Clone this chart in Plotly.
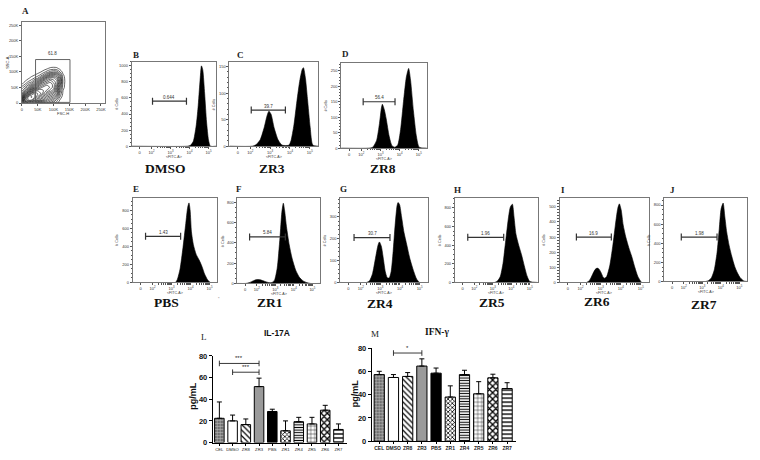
import math
import plotly.graph_objects as go

W, H = 760, 460
SERIF = "Liberation Serif"
SANS = "Liberation Sans"

# ---------------- DATA ----------------
# Panel A: contour density (FSC-H vs SSC-A)
a_x = [0, 10000, 20000, 30000, 40000, 50000, 60000, 70000, 80000, 90000, 100000, 110000, 120000, 130000, 140000]
a_y = [0, 10000, 20000, 30000, 40000, 50000, 60000, 70000, 80000, 90000, 100000, 110000, 120000]
a_z = [
    [3, 5, 6, 6, 5, 4, 3, 2.5, 2, 1.5, 1, 0.5, 0, 0, 0],
    [4, 7, 8, 8, 7, 6, 5, 4, 3, 2.5, 2, 1, 0.3, 0, 0],
    [3, 6, 8, 8.5, 8, 7, 6, 5, 4, 3.5, 3, 2, 0.8, 0, 0],
    [2, 4, 6, 7.5, 8, 7.5, 7, 6, 5, 4.5, 4, 3, 1.2, 0.2, 0],
    [1.5, 2.5, 4, 5.5, 6.5, 7, 7, 6.5, 6, 5.5, 5, 3.5, 1.5, 0.3, 0],
    [1, 1.5, 2.5, 3.5, 4.5, 5.5, 6, 6.5, 6.5, 6, 5.5, 4, 2, 0.5, 0],
    [0.3, 0.8, 1.5, 2, 3, 4, 5, 5.5, 6, 6, 5.5, 4.5, 2.5, 0.6, 0],
    [0, 0.3, 0.7, 1, 1.8, 2.5, 3.5, 4.5, 5, 5.5, 5, 4.5, 2.8, 0.7, 0],
    [0, 0, 0.2, 0.5, 0.8, 1.2, 2, 3, 4, 4.5, 4.5, 4, 2.5, 0.6, 0],
    [0, 0, 0, 0.1, 0.3, 0.5, 0.9, 1.5, 2.3, 3, 3.2, 3, 1.8, 0.4, 0],
    [0, 0, 0, 0, 0, 0.1, 0.3, 0.6, 1, 1.4, 1.6, 1.5, 0.8, 0.1, 0],
    [0, 0, 0, 0, 0, 0, 0, 0.1, 0.3, 0.5, 0.6, 0.5, 0.2, 0, 0],
    [0] * 15,
]
a_gate = [43000, 152000, 2000, 140000]
a_gate_pct = "61.8"
a_ticks = [0, 50000, 100000, 150000, 200000, 250000]
a_ticklabels = ["0", "50K", "100K", "150K", "200K", "250K"]

# Histograms (x in log10 FITC-A display units, y = # cells)
dmso_x = [0.95, 3.9, 4.05, 4.2, 4.35, 4.45, 4.55, 4.63, 4.7, 4.8, 4.9, 5.0, 5.1, 5.42]
dmso_y = [0, 0, 10, 60, 250, 480, 800, 1000, 950, 650, 300, 80, 0, 0]
zr3_x = [0.95, 2.1, 2.3, 2.5, 2.7, 2.85, 2.94, 3.05, 3.2, 3.4, 3.6, 3.95, 4.05, 4.2, 4.35, 4.5, 4.62, 4.68, 4.78, 4.88, 5.02, 5.15, 5.42]
zr3_y = [0, 0, 3, 12, 35, 58, 66, 60, 35, 12, 2, 2, 10, 40, 85, 125, 145, 148, 128, 90, 35, 2, 0]
zr8_x = [0.95, 2.4, 2.6, 2.8, 2.95, 3.05, 3.1, 3.2, 3.3, 3.45, 3.6, 3.75, 3.9, 4.05, 4.2, 4.35, 4.47, 4.57, 4.72, 4.87, 5.02, 5.42]
zr8_y = [0, 0, 3, 25, 80, 130, 142, 125, 95, 40, 8, 3, 10, 60, 150, 230, 258, 220, 120, 40, 3, 0]
pbs_x = [0.95, 3.2, 3.3, 3.45, 3.6, 3.75, 3.85, 3.92, 3.98, 4.05, 4.15, 4.3, 4.45, 4.6, 4.75, 4.9, 5.05, 5.42]
pbs_y = [0, 0, 30, 150, 380, 650, 830, 880, 800, 560, 420, 310, 250, 180, 90, 30, 0, 0]
zr1_x = [0.95, 1.4, 1.6, 1.8, 2.0, 2.2, 2.4, 2.6, 2.8, 2.95, 3.1, 3.25, 3.35, 3.43, 3.5, 3.6, 3.75, 3.9, 4.1, 4.3, 4.5, 4.7, 4.9, 5.42]
zr1_y = [0, 0, 8, 25, 38, 35, 22, 10, 8, 30, 150, 450, 700, 790, 720, 560, 380, 250, 130, 60, 25, 8, 0, 0]
zr4_x = [0.95, 2.3, 2.45, 2.6, 2.75, 2.88, 2.95, 3.05, 3.15, 3.25, 3.35, 3.45, 3.55, 3.65, 3.75, 3.85, 3.9, 3.98, 4.08, 4.2, 4.35, 4.5, 4.7, 4.85, 5.0, 5.42]
zr4_y = [0, 0, 8, 40, 110, 170, 185, 165, 110, 50, 22, 20, 50, 140, 260, 350, 365, 355, 300, 230, 170, 110, 50, 15, 0, 0]
zr5_x = [0.95, 3.1, 3.25, 3.4, 3.55, 3.7, 3.85, 3.95, 4.06, 4.15, 4.25, 4.4, 4.55, 4.7, 4.85, 5.0, 5.42]
zr5_y = [0, 0, 15, 60, 200, 450, 700, 810, 840, 700, 520, 400, 300, 180, 70, 10, 0]
zr6_x = [0.95, 2.3, 2.45, 2.6, 2.72, 2.82, 2.92, 3.02, 3.12, 3.2, 3.3, 3.45, 3.6, 3.75, 3.85, 3.93, 4.02, 4.12, 4.25, 4.4, 4.55, 4.7, 4.85, 5.05, 5.42]
zr6_y = [0, 0, 15, 55, 85, 95, 88, 65, 35, 28, 40, 110, 240, 400, 490, 520, 480, 380, 300, 230, 170, 100, 40, 0, 0]
zr7_x = [0.95, 3.2, 3.35, 3.5, 3.65, 3.8, 3.92, 4.02, 4.13, 4.22, 4.32, 4.45, 4.6, 4.75, 4.9, 5.05, 5.25, 5.42]
zr7_y = [0, 0, 10, 40, 120, 300, 550, 760, 820, 680, 520, 380, 260, 160, 90, 40, 5, 0]

hist_letters = ["B", "C", "D", "E", "F", "G", "H", "I", "J"]
hist_names = ["DMSO", "ZR3", "ZR8", "PBS", "ZR1", "ZR4", "ZR5", "ZR6", "ZR7"]
hist_x = [dmso_x, zr3_x, zr8_x, pbs_x, zr1_x, zr4_x, zr5_x, zr6_x, zr7_x]
hist_y = [dmso_y, zr3_y, zr8_y, pbs_y, zr1_y, zr4_y, zr5_y, zr6_y, zr7_y]
hist_ymax = [1050, 159, 276, 933, 840, 385, 905, 558, 872]
hist_dtick = [200, 50, 50, 200, 200, 100, 200, 100, 200]
hist_gate_lo = [2.05, 2.05, 2.1, 1.63, 1.61, 1.66, 1.65, 1.79, 1.87]
hist_gate_hi = [3.84, 3.77, 3.76, 3.48, 3.54, 3.49, 3.59, 3.53, 3.8]
hist_gate_y = [560, 68, 150, 510, 458, 205, 484, 300, 465]
hist_gate_pct = ["0.644", "39.7", "56.4", "1.43", "5.84", "30.7", "1.96", "16.9", "1.98"]
fitc_tickvals = [1.37, 2, 3, 4, 5]
fitc_ticktext = ["0", "10<sup>2</sup>", "10<sup>3</sup>", "10<sup>4</sup>", "10<sup>5</sup>"]

# Bar charts
groups = ["CEL", "DMSO", "ZR8", "ZR3", "PBS", "ZR1", "ZR4", "ZR5", "ZR6", "ZR7"]
il17a_mean = [22.4, 20.0, 16.6, 51.7, 28.7, 10.9, 19.3, 17.2, 29.9, 12.1]
il17a_top = [37.5, 25.4, 21.8, 59.5, 30.8, 20.0, 23.3, 23.3, 34.4, 17.2]
ifng_mean = [57.3, 54.8, 55.7, 64.6, 58.5, 38.0, 57.3, 40.8, 54.5, 45.3]
ifng_top = [60.1, 57.3, 59.0, 70.8, 62.9, 47.6, 61.0, 51.2, 57.6, 50.3]
il17a_sig = [("CEL", "ZR3", 73.1, "***"), ("DMSO", "ZR3", 65.0, "***")]
ifng_sig = [("DMSO", "ZR3", 75.8, "*")]

# ---------------- FIGURE ----------------
def fx(p):
    return p / W


def fy(p):
    return 1 - p / H


fig = go.Figure()
layout = {}
ann = []
shapes = []


def note(x, y, text, size, family=SANS, color="#333", angle=0, ref=None, yshift=0):
    d = dict(text=text, showarrow=False, xanchor="center", yanchor="middle",
             font=dict(size=size, family=family, color=color), textangle=angle, yshift=yshift)
    if ref is None:
        d.update(x=fx(x), y=fy(y), xref="paper", yref="paper")
    else:
        d.update(x=x, y=y, xref=ref[0], yref=ref[1])
    ann.append(d)


small = dict(size=4, family=SANS, color="#333")
box_line = dict(showline=True, mirror=True, linecolor="#777", linewidth=0.8,
                showgrid=False, zeroline=False, ticks="outside", ticklen=2,
                tickwidth=0.5, tickcolor="#555", fixedrange=True)

# ----- Panel A -----
fig.add_trace(go.Contour(
    x=a_x, y=a_y, z=a_z, xaxis="x", yaxis="y", showscale=False,
    contours=dict(coloring="lines", start=0.3, end=8.5, size=0.45),
    colorscale=[[0, "black"], [1, "black"]], line=dict(width=0.6),
    hoverinfo="skip"))
layout["xaxis"] = dict(domain=[fx(21), fx(104)], range=[0, 262000], anchor="y",
                       tickvals=a_ticks, ticktext=a_ticklabels, tickfont=small, **box_line)
layout["yaxis"] = dict(domain=[fy(101), fy(18)], range=[0, 262000], anchor="x",
                       tickvals=a_ticks, ticktext=a_ticklabels, tickfont=small, **box_line)
shapes.append(dict(type="rect", xref="x", yref="y", x0=a_gate[0], x1=a_gate[1],
                   y0=a_gate[2], y1=a_gate[3], line=dict(color="#555", width=0.9)))
note((a_gate[0] + a_gate[1]) / 2, a_gate[3] + 20000, a_gate_pct, 4.5, ref=("x", "y"))
note(25, 7, "<b>A</b>", 9, SERIF, "#222")
note(62, 112, "FSC-H", 4)
note(7, 59, "SSC-A", 4, angle=-90)

# ----- Histograms -----
hist_boxes = [(131, 216, 59, 145), (229, 318, 59, 145), (341, 427, 60, 147),
              (132, 217, 198, 284), (237, 320, 198, 285), (340, 428, 198, 284),
              (455, 538, 198, 284), (560, 650, 198, 284), (665, 748, 198, 283)]
letter_pos = [(135, 52), (240, 52), (345, 51), (135, 189), (239, 189), (343, 189),
              (458, 190), (563, 190), (673, 190)]
name_pos = [(165, 168), (272, 168), (383, 168), (166, 304), (270, 304), (380, 305),
            (492, 304), (598, 303), (705, 306)]

minor_x = [n + math.log10(k) for n in (2, 3, 4) for k in range(2, 10)]

for i in range(9):
    ax = i + 2
    xn, yn = "x%d" % ax, "y%d" % ax
    l, r, t, b = hist_boxes[i]
    fig.add_trace(go.Scatter(
        x=hist_x[i], y=hist_y[i], xaxis=xn, yaxis=yn, mode="lines",
        line=dict(color="black", width=0.6, shape="spline", smoothing=0.6),
        fill="tozeroy", fillcolor="black", hoverinfo="skip", showlegend=False))
    fig.add_trace(go.Scatter(
        x=[hist_gate_lo[i], hist_gate_hi[i]], y=[hist_gate_y[i]] * 2, xaxis=xn, yaxis=yn,
        mode="lines+markers", line=dict(color="#333", width=1.2),
        marker=dict(symbol="line-ns", size=5, line=dict(color="#333", width=1.2)),
        hoverinfo="skip", showlegend=False))
    note((hist_gate_lo[i] + hist_gate_hi[i]) / 2, hist_gate_y[i], hist_gate_pct[i], 4.5,
         ref=(xn, yn), yshift=4)
    layout["xaxis%d" % ax] = dict(domain=[fx(l), fx(r)], range=[0.95, 5.42], anchor=yn,
                                  tickvals=fitc_tickvals, ticktext=fitc_ticktext, tickfont=small,
                                  minor=dict(tickvals=minor_x, ticks="outside", ticklen=1.2,
                                             tickwidth=0.4, tickcolor="#555"),
                                  **box_line)
    layout["yaxis%d" % ax] = dict(domain=[fy(b), fy(t)], range=[0, hist_ymax[i]], anchor=xn,
                                  dtick=hist_dtick[i], tickfont=small,
                                  minor=dict(ticks="outside", ticklen=1.2, tickwidth=0.4,
                                             tickcolor="#555", nticks=5),
                                  **box_line)
    note((l + r) / 2, b + 11, "&lt;FITC-A&gt;", 3.6)
    note(l - 15, (t + b) / 2, "# Cells", 3.8, angle=-90)
    lx, ly = letter_pos[i]
    note(lx, ly, "<b>%s</b>" % hist_letters[i], 9, SERIF, "#222")
    nx, ny = name_pos[i]
    note(nx, ny, "<b>%s</b>" % hist_names[i], 13.5, SERIF, "#111")

note(219, 300, "*", 4, color="#777")

# ----- Bar charts -----
bar_color = ["#6e6e6e", "white", "white", "#9a9a9a", "black", "white", "white", "white", "white", "white"]
pat_shape = ["+", "", "\\", "", "", "x", "-", "+", "x", "-"]
pat_size = [3, 8, 4, 8, 8, 3, 2.6, 4, 4.5, 4]
pat_solid = [0.35, 0.2, 0.3, 0.2, 0.2, 0.45, 0.4, 0.2, 0.5, 0.35]
pat_fg = ["#b8b8b8", "black", "black", "black", "black", "black", "black", "black", "black", "black"]


def bar_panel(ax, means, tops, sigs, xdom, ydom, xr, tfont):
    xn, yn = "x%d" % ax, "y%d" % ax
    for j, g in enumerate(groups):
        pat = dict(shape=pat_shape[j], size=pat_size[j], solidity=pat_solid[j],
                   fgcolor=pat_fg[j], bgcolor=bar_color[j], fillmode="replace")
        fig.add_trace(go.Bar(
            x=[g], y=[means[j]], xaxis=xn, yaxis=yn, width=0.72,
            marker=dict(color=bar_color[j], line=dict(color="black", width=1), pattern=pat),
            error_y=dict(type="data", symmetric=False, array=[tops[j] - means[j]],
                         arrayminus=[0], thickness=1, width=2.5, color="black"),
            hoverinfo="skip", showlegend=False))
    for g0, g1, yv, txt in sigs:
        fig.add_trace(go.Scatter(
            x=[g0, g1], y=[yv, yv], xaxis=xn, yaxis=yn, mode="lines+markers",
            line=dict(color="#222", width=0.9),
            marker=dict(symbol="line-ns", size=4, line=dict(color="#222", width=0.9)),
            hoverinfo="skip", showlegend=False))
        note((groups.index(g0) + groups.index(g1)) / 2, yv, txt, 6, color="#222",
             ref=(xn, yn), yshift=5)
    layout["xaxis%d" % ax] = dict(domain=[fx(xdom[0]), fx(xdom[1])], range=xr, anchor=yn,
                                  type="category", categoryorder="array", categoryarray=groups,
                                  showline=True, linecolor="black", linewidth=1,
                                  ticks="outside", ticklen=2, tickwidth=0.8, tickcolor="black",
                                  tickangle=0, tickfont=tfont,
                                  showgrid=False, zeroline=False, fixedrange=True)
    layout["yaxis%d" % ax] = dict(domain=[fy(ydom[0]), fy(ydom[1])], range=[0, 80], anchor=xn,
                                  dtick=20, showline=True, linecolor="black", linewidth=1,
                                  ticks="outside", ticklen=3, tickwidth=1, tickcolor="black",
                                  tickfont=dict(size=7.5, family=SANS, color="#111", weight="bold"),
                                  showgrid=False, zeroline=False, fixedrange=True)


bar_panel(11, il17a_mean, il17a_top, il17a_sig, (212.3, 346.7), (447.3, 359), [-0.5, 9.63],
          dict(size=4.2, family=SANS, color="#222"))
bar_panel(12, ifng_mean, ifng_top, ifng_sig, (371.7, 516.7), (446, 351), [-0.53, 9.65],
          dict(size=5, family=SANS, color="#222", weight="bold"))

note(204, 340, "L", 9, SERIF, "#222")
note(277, 336, "<b>IL-17A</b>", 8.5, SANS, "#111")
note(193, 400, "<b>pg/mL</b>", 9, SANS, "#111", angle=-90)
note(375, 337, "M", 9, SERIF, "#222")
note(438, 335, "<b>IFN-γ</b>", 9.5, SERIF, "#111")
note(355, 398, "<b>pg/mL</b>", 9, SANS, "#111", angle=-90)

fig.update_layout(width=W, height=H, margin=dict(l=0, r=0, t=0, b=0),
                  paper_bgcolor="white", plot_bgcolor="white", showlegend=False,
                  barmode="overlay", annotations=ann, shapes=shapes, **layout)
fig.write_html("out.html", config={"displayModeBar": False},
               post_script="document.body.style.margin='0px';document.body.style.overflow='hidden';")
